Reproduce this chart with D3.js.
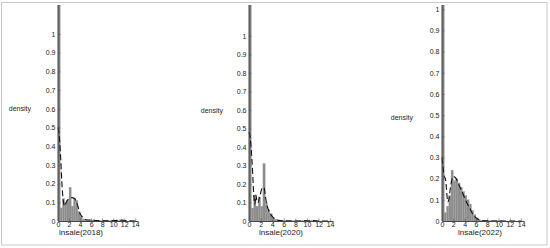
<!DOCTYPE html>
<html>
<head>
<meta charset="utf-8">
<script src="https://cdn.jsdelivr.net/npm/d3@7"></script>
<style>
  body { margin: 0; background: #fff; }
  svg { display: block; font-family: "Liberation Sans", Arial, sans-serif; }
</style>
</head>
<body>
<div id="chart"></div>
<script>
// histogram bins start at 0, each binWidth wide
const binWidth = 0.4;
const hist2018 = [1.6, 0.07, 0.12, 0.10, 0.11, 0.18, 0.08, 0.12, 0.11, 0.05, 0.025, 0.01,
                  0.005, 0.003, 0.004, 0.006, 0.005, 0.002, 0.001, 0.001, 0.001, 0.001, 0.001, 0.001,
                  0.001, 0.002, 0.002, 0.004, 0.006, 0.005, 0.002, 0, 0, 0, 0, 0];
const hist2020 = [1.6, 0.07, 0.14, 0.08, 0.13, 0.08, 0.31, 0.10, 0.06, 0.04, 0.02, 0.01,
                  0.006, 0.004, 0.002, 0.001, 0.001, 0.001, 0.001, 0.001, 0.001, 0.001, 0.001, 0.001,
                  0.001, 0.001, 0.002, 0.003, 0.002, 0.001, 0, 0, 0, 0, 0, 0];
const hist2022 = [1.1, 0.04, 0.07, 0.12, 0.24, 0.19, 0.20, 0.18, 0.16, 0.14, 0.12, 0.10,
                  0.08, 0.05, 0.03, 0.015, 0.006, 0.003, 0.002, 0.001, 0.001, 0.001, 0.001, 0.001,
                  0.001, 0.001, 0.001, 0, 0, 0, 0, 0, 0, 0, 0, 0];

// kernel density (dashed line)
const kdeX2018 = [0, 0.25, 0.5, 0.75, 1, 1.25, 1.5, 2, 2.5, 3, 3.5, 4, 4.5, 5, 5.5, 6, 7, 8, 9, 10, 11, 11.5, 12, 13, 14];
const kdeY2018 = [0.5, 0.45, 0.33, 0.18, 0.1, 0.08, 0.1, 0.12, 0.125, 0.12, 0.09, 0.04, 0.018, 0.008, 0.005, 0.006, 0.003, 0.001, 0.001, 0.002, 0.004, 0.005, 0.003, 0.001, 0];
const kdeX2020 = [0, 0.2, 0.4, 0.6, 0.8, 1.0, 1.2, 1.4, 1.6, 1.8, 2.0, 2.3, 2.6, 2.8, 3.0, 3.5, 4, 4.5, 5, 6, 8, 10, 11, 12, 14];
const kdeY2020 = [0.48, 0.45, 0.38, 0.28, 0.15, 0.09, 0.14, 0.1, 0.1, 0.13, 0.15, 0.18, 0.18, 0.14, 0.1, 0.05, 0.025, 0.01, 0.004, 0.001, 0, 0.001, 0.002, 0, 0];
const kdeX2022 = [0, 0.2, 0.4, 0.6, 0.8, 1.0, 1.2, 1.5, 2.0, 2.5, 3.0, 3.5, 4.0, 4.5, 5.0, 5.5, 6.0, 6.5, 7, 8, 9, 14];
const kdeY2022 = [0.3, 0.25, 0.21, 0.2, 0.15, 0.09, 0.1, 0.16, 0.21, 0.2, 0.17, 0.14, 0.11, 0.08, 0.055, 0.03, 0.015, 0.007, 0.003, 0.001, 0, 0];

const xLabels = ["lnsale(2018)", "lnsale(2020)", "lnsale(2022)"];
const yLabel = "density";
const xTicks = [0, 2, 4, 6, 8, 10, 12, 14];
const yTicks = [0, 0.1, 0.2, 0.3, 0.4, 0.5, 0.6, 0.7, 0.8, 0.9, 1];
const xMax = 14.5;
const yMax = [1.155, 1.167, 1.02];

const hists = [hist2018, hist2020, hist2022];
const kdeXs = [kdeX2018, kdeX2020, kdeX2022];
const kdeYs = [kdeY2018, kdeY2020, kdeY2022];

// layout of the three panels, in pixels
const layout = [
  { x0: 58,  x1: 138, labelX: 81,  densX: 31,  densY: 111 },
  { x0: 249, x1: 333, labelX: 281, densX: 223, densY: 113 },
  { x0: 442, x1: 524, labelX: 480, densX: 413, densY: 120 }
];
const yBase = 221, yTop = 5;

const width = 550, height = 248;
const svg = d3.select("#chart").append("svg")
  .attr("width", width)
  .attr("height", height);

svg.append("rect")
  .attr("x", 1.5).attr("y", 2.5)
  .attr("width", 545.5).attr("height", 242.5)
  .attr("fill", "none")
  .attr("stroke", "#c9c9c9")
  .attr("stroke-width", 1);

hists.forEach((hist, i) => {
  const L = layout[i];
  const x = d3.scaleLinear().domain([0, xMax]).range([L.x0, L.x1]);
  const y = d3.scaleLinear().domain([0, yMax[i]]).range([yBase, yTop]);
  const g = svg.append("g");

  g.append("clipPath").attr("id", "clip" + i)
    .append("rect")
    .attr("x", L.x0).attr("y", yTop)
    .attr("width", L.x1 - L.x0).attr("height", yBase - yTop);

  g.append("g")
    .attr("clip-path", `url(#clip${i})`)
    .selectAll("rect")
    .data(hist)
    .join("rect")
    .attr("x", (d, k) => x(k * binWidth))
    .attr("y", d => y(d))
    .attr("width", (d, k) => x((k + 1) * binWidth) - x(k * binWidth))
    .attr("height", d => y(0) - y(d))
    .attr("fill", (d, k) => k === 0 ? "#7a7a7a" : "#8c8c8c")
    .attr("stroke", "#9e9e9e")
    .attr("stroke-width", 0.3);

  const pts = kdeXs[i].map((v, k) => [v, kdeYs[i][k]]);
  const line = d3.line()
    .x(d => x(d[0]))
    .y(d => y(d[1]))
    .curve(d3.curveMonotoneX);

  g.append("path")
    .datum(pts)
    .attr("d", line)
    .attr("fill", "none")
    .attr("stroke", "#111")
    .attr("stroke-width", 1.1)
    .attr("stroke-dasharray", "6,3");

  const yAxis = g.append("g")
    .attr("transform", `translate(${L.x0},0)`)
    .call(d3.axisLeft(y).tickValues(yTicks).tickFormat(d3.format("~g"))
      .tickSizeInner(-2.5).tickSizeOuter(0).tickPadding(2.5));
  yAxis.select(".domain").attr("d", `M0,${yBase}V${yTop}`);

  const xAxis = g.append("g")
    .attr("transform", `translate(0,${yBase})`)
    .call(d3.axisBottom(x).tickValues(xTicks)
      .tickSizeInner(-2.5).tickSizeOuter(0).tickPadding(1));

  [yAxis, xAxis].forEach(a => {
    a.select(".domain").attr("stroke", "#444").attr("stroke-width", 1);
    a.selectAll(".tick line").attr("stroke", "#555").attr("stroke-width", 0.6);
    a.selectAll(".tick text")
      .attr("fill", "#222")
      .style("font-size", "7px")
      .style("font-family", "'Liberation Sans', Arial, sans-serif");
  });

  g.append("text")
    .attr("x", L.labelX)
    .attr("y", 235)
    .attr("text-anchor", "middle")
    .attr("fill", "#222")
    .style("font-size", "8px")
    .text(xLabels[i]);

  g.append("text")
    .attr("x", L.densX)
    .attr("y", L.densY)
    .attr("text-anchor", "end")
    .attr("fill", "#222")
    .style("font-size", "7px")
    .text(yLabel);
});
</script>
</body>
</html>
